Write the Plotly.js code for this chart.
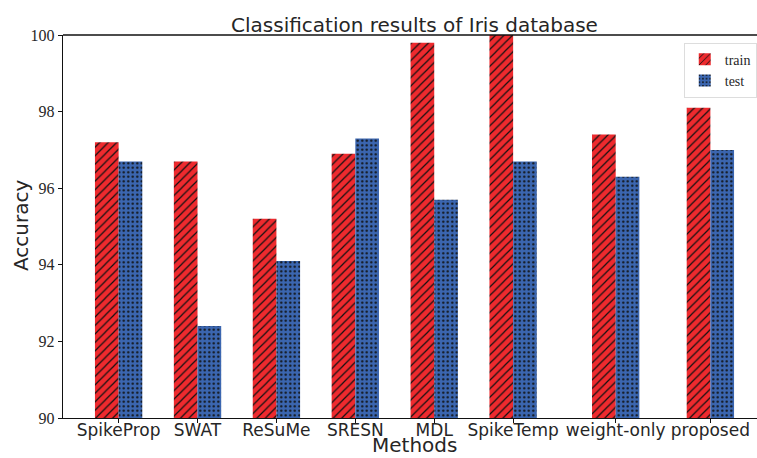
<!DOCTYPE html>
<html>
<head>
<meta charset="utf-8">
<script src="https://cdn.plot.ly/plotly-3.0.1.min.js"></script>
<style>
html,body{margin:0;padding:0;overflow:hidden;background:#fff;}
#chart{width:770px;height:458px;}
</style>
</head>
<body>
<div id="chart"></div>
<script>
var methods = ["SpikeProp","SWAT","ReSuMe","SRESN","MDL","SpikeTemp","weight-only","proposed"];
var positions = [0,1,2,3,4,5,6.3,7.5];
var trainAcc = [97.2,96.7,95.2,96.9,99.8,100.0,97.4,98.1];
var testAcc = [96.7,92.4,94.1,97.3,95.7,96.7,96.3,97.0];
var yTicks = [90,92,94,96,98,100];

var barW = 0.3;
var trainX = positions.map(function(p){return p - barW/2;});
var testX = positions.map(function(p){return p + barW/2;});

var SERIF = '"Liberation Serif", "Times New Roman", Times, serif';

var traces = [
  {type:'bar', name:'train', x:trainX, y:trainAcc, width:barW,
   marker:{color:'#ee2a2e', line:{width:0},
     pattern:{shape:'/', fgcolor:'#111', bgcolor:'#ee2a2e', size:6, solidity:0.2}}},
  {type:'bar', name:'test', x:testX, y:testAcc, width:barW,
   marker:{color:'#3b66b0', line:{width:0},
     pattern:{shape:'.', fgcolor:'#111', bgcolor:'#3b66b0', size:4.5, solidity:0.2}}}
];

var layout = {
  width:770, height:458,
  margin:{l:63, r:4, t:35, b:40},
  paper_bgcolor:'#fff', plot_bgcolor:'#fff',
  barmode:'overlay',
  title:{text:'Classification results of Iris database', font:{family:'DejaVu Sans', size:20, color:'#262626'},
         x:0.5, xref:'paper', y:0.945, yref:'container', yanchor:'middle'},
  xaxis:{range:[-0.705, 8.205], tickvals:positions, ticktext:methods, tickangle:0,
         showline:true, linecolor:'#111', linewidth:1.3, mirror:false,
         ticks:'outside', ticklen:4, tickcolor:'#111', showgrid:false, zeroline:false,
         ticklabelstandoff:-8,
         tickfont:{family:'DejaVu Sans', size:17, color:'#262626'}},
  yaxis:{range:[90,100], tickvals:yTicks,
         showline:true, linecolor:'#111', linewidth:1.3,
         ticks:'outside', ticklen:4, tickcolor:'#111', showgrid:false, zeroline:false,
         tickfont:{family:SERIF, size:16, color:'#262626'}},
  annotations:[
    {text:'Methods', xref:'paper', yref:'paper', x:0.5, y:-(458-418)/383, xanchor:'center', yanchor:'bottom',
     showarrow:false, borderpad:0, font:{family:'DejaVu Sans', size:20, color:'#262626'}},
    {text:'Accuracy', xref:'paper', yref:'paper', x:-(63-21)/703, y:(418-226)/383, xanchor:'center', yanchor:'middle',
     textangle:-90, showarrow:false, font:{family:'DejaVu Sans', size:20, color:'#262626'}}
  ],
  shapes:[{type:'line', xref:'paper', yref:'paper', x0:0, x1:1, y0:1, y1:1, line:{color:'#111', width:1.3}}],
  showlegend:true,
  legend:{x:0.883, y:0.98, xanchor:'left', yanchor:'top', bgcolor:'rgba(255,255,255,0.8)',
          bordercolor:'#ddd', borderwidth:1,
          font:{family:SERIF, size:14, color:'#262626'}, tracegroupgap:2}
};

Plotly.newPlot('chart', traces, layout, {displayModeBar:false, staticPlot:true});
</script>
</body>
</html>
